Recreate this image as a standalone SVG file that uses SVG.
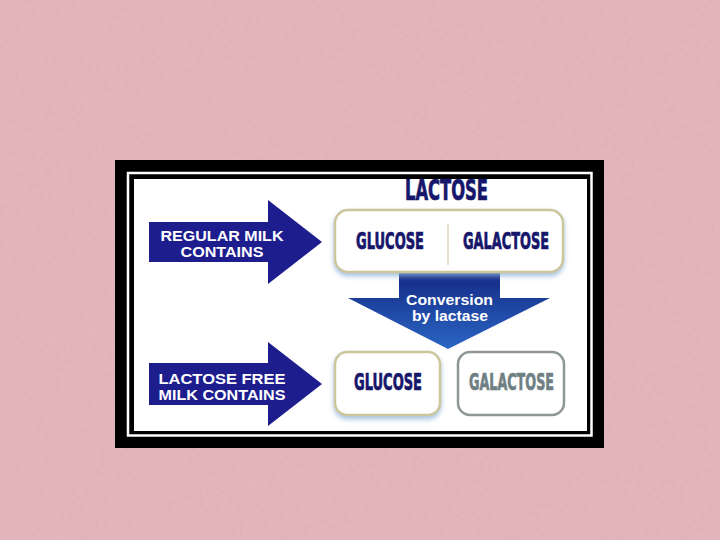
<svg xmlns="http://www.w3.org/2000/svg" width="720" height="540" viewBox="0 0 720 540">
<defs>
<style>
.arrow{fill:#1d1d8e}
.atxt{font-family:"Liberation Sans",Arial,sans-serif;font-weight:bold;font-size:14px;fill:#ffffff;text-anchor:middle}
.cond{font-family:"Liberation Sans Narrow","DejaVu Sans Condensed","Liberation Sans",sans-serif;font-weight:bold;fill:#16166a;stroke:#16166a;stroke-width:0.7}
.box{fill:#ffffff;stroke:#cbc69b;stroke-width:2.5}
.box2{fill:#ffffff;stroke:#8e9696;stroke-width:2.5}
</style>
<filter id="tex" x="0" y="0" width="100%" height="100%">
<feTurbulence type="fractalNoise" baseFrequency="0.25" numOctaves="2" seed="4" result="n"/>
<feColorMatrix in="n" type="matrix" values="0 0 0 0 0.55  0 0 0 0 0.3  0 0 0 0 0.35  0 0 0 -1.6 1.0"/>
</filter>
<filter id="sh" x="-10%" y="-20%" width="120%" height="150%">
<feDropShadow dx="0" dy="3" stdDeviation="2.5" flood-color="#8fb3d9" flood-opacity="0.8"/>
</filter>
<linearGradient id="down" x1="0" y1="0" x2="0" y2="1">
<stop offset="0" stop-color="#152a86"/>
<stop offset="1" stop-color="#2a66c4"/>
</linearGradient>
</defs>
<rect x="0" y="0" width="720" height="540" fill="#e2b6ba"/>
<rect x="0" y="0" width="720" height="540" filter="url(#tex)" opacity="0.15"/>
<g id="frame">
<rect x="115" y="160" width="489" height="288" fill="#000000"/>
<rect x="128" y="173" width="463.5" height="262.5" fill="none" stroke="#ffffff" stroke-width="2.5"/>
<rect x="134" y="179" width="453" height="252" fill="#ffffff"/>
</g>
<g id="title">
<text class="cond" x="446.5" y="200" font-size="28" text-anchor="middle" textLength="83" lengthAdjust="spacingAndGlyphs">LACTOSE</text>
</g>
<g id="connectors">
<g id="arrow-regular">
<polygon class="arrow" points="149,222 268,222 268,200 322,242 268,284 268,262 149,262"/>
</g>
<g id="arrow-free">
<polygon class="arrow" points="149,363 268,363 268,342 322,384 268,426 268,405 149,405"/>
</g>
<g id="arrow-conversion">
<polygon fill="url(#down)" points="399,273 500,273 500,298 550,298 448,349 348,298 399,298"/>
</g>
</g>
<g id="label-regular">
<text class="atxt" x="222" y="241" textLength="123" lengthAdjust="spacingAndGlyphs">REGULAR MILK</text>
<text class="atxt" x="222" y="257" textLength="83" lengthAdjust="spacingAndGlyphs">CONTAINS</text>
</g>
<g id="label-free">
<text class="atxt" x="222" y="384" textLength="127" lengthAdjust="spacingAndGlyphs">LACTOSE FREE</text>
<text class="atxt" x="222" y="400" textLength="127" lengthAdjust="spacingAndGlyphs">MILK CONTAINS</text>
</g>
<g id="label-conversion">
<text class="atxt" x="449.5" y="305" textLength="87" lengthAdjust="spacingAndGlyphs">Conversion</text>
<text class="atxt" x="450" y="321" textLength="76" lengthAdjust="spacingAndGlyphs">by lactase</text>
</g>
<g id="lactose-box">
<rect class="box" x="335" y="210" width="228" height="62" rx="13" filter="url(#sh)"/>
<line x1="448" y1="224" x2="448" y2="265" stroke="#dcd6b4" stroke-width="1.5"/>
<text class="cond" x="390" y="249" font-size="23" text-anchor="middle" textLength="68" lengthAdjust="spacingAndGlyphs">GLUCOSE</text>
<text class="cond" x="506" y="249" font-size="23" text-anchor="middle" textLength="86" lengthAdjust="spacingAndGlyphs">GALACTOSE</text>
</g>
<g id="glucose-box">
<rect class="box" x="335" y="352" width="105" height="63" rx="12" filter="url(#sh)"/>
<text class="cond" x="388" y="390" font-size="23" text-anchor="middle" textLength="68" lengthAdjust="spacingAndGlyphs">GLUCOSE</text>
</g>
<g id="galactose-box">
<rect class="box2" x="458" y="352" width="106" height="63" rx="12"/>
<text class="cond" x="511.5" y="390" font-size="23" text-anchor="middle" textLength="85" lengthAdjust="spacingAndGlyphs" style="fill:#6f7f84;stroke:#6f7f84">GALACTOSE</text>
</g>
</svg>
